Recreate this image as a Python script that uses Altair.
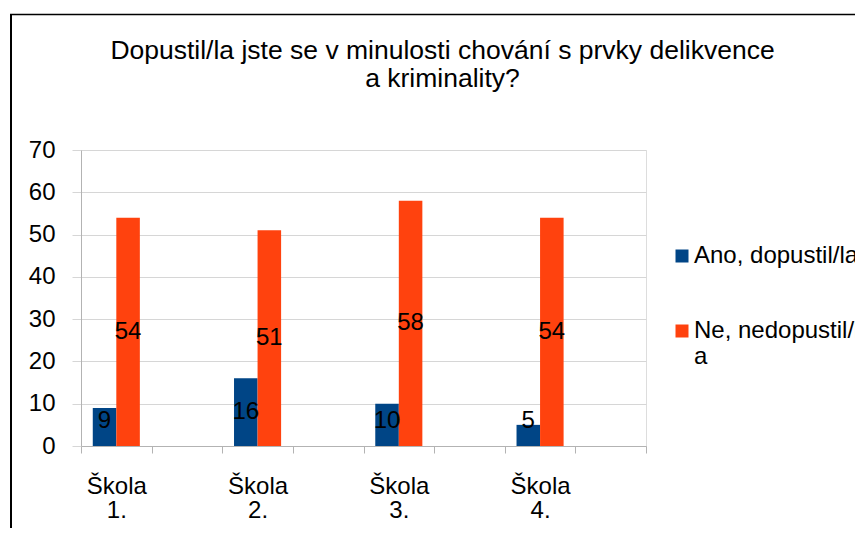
import altair as alt
import pandas as pd

# ---- data ----
schools = ["Škola 1.", "Škola 2.", "Škola 3.", "Škola 4."]
series = ["Ano, dopustil/la", "Ne, nedopustil/la"]
ano = [9, 16, 10, 5]
ne = [54, 51, 58, 54]
colors = ["#004586", "#ff420e"]
y_ticks = [0, 10, 20, 30, 40, 50, 60, 70]
title_lines = ["Dopustil/la jste se v minulosti chování s prvky delikvence", "a kriminality?"]

rows = []
for s, a, n in zip(schools, ano, ne):
    rows.append({"skola": s, "odpoved": series[0], "pocet": a})
    rows.append({"skola": s, "odpoved": series[1], "pocet": n})
df = pd.DataFrame(rows)

# each school is followed by an empty slot, as in the original category axis
x_domain = []
for i, s in enumerate(schools):
    x_domain += [s, f"_{i + 1}"]

FONT = "Liberation Sans"
GRID = "#d6d6d6"
AXIS = "#b3b3b3"

x_scale = alt.Scale(domain=x_domain, paddingInner=0, paddingOuter=0)
x_axis = alt.Axis(
    title=None,
    labelExpr="isString(datum.value) && indexof(datum.value, '_') != 0 ? split(datum.value, ' ') : ''",
    labelAngle=0,
    labelOverlap=False,
    labelFont=FONT,
    labelFontSize=24,
    labelLineHeight=24,
    labelColor="black",
    labelPadding=21,
    tickBand="extent",
    tickSize=7,
    tickColor=AXIS,
    domainColor=AXIS,
    grid=False,
)
xo = alt.XOffset("odpoved:N", scale=alt.Scale(domain=series, paddingInner=0, paddingOuter=0.5))

y_scale = alt.Scale(domain=[0, 70], nice=False)
y_axis = alt.Axis(
    title=None,
    values=y_ticks,
    labelFont=FONT,
    labelFontSize=24,
    labelColor="black",
    labelPadding=17,
    tickSize=9,
    tickColor=GRID,
    domainColor=AXIS,
    gridColor=GRID,
)

base = alt.Chart(df)

bars = base.mark_bar().encode(
    x=alt.X("skola:N", scale=x_scale, axis=x_axis),
    xOffset=xo,
    y=alt.Y("pocet:Q", scale=y_scale, axis=y_axis),
    color=alt.Color(
        "odpoved:N",
        scale=alt.Scale(domain=series, range=colors),
        legend=alt.Legend(
            title=None,
            orient="none",
            legendX=589,
            legendY=94,
            padding=0,
            symbolType="square",
            symbolSize=169,
            symbolStrokeWidth=0,
            labelFont=FONT,
            labelFontSize=24,
            labelColor="black",
            labelOffset=0,
            labelLimit=400,
            labelBaseline="middle",
            rowPadding=51,
            labelExpr="length(datum.label) > 16 ? [substring(datum.label, 0, 16), substring(datum.label, 16)] : datum.label",
        ),
    ),
)

labels = base.transform_calculate(ypos="max(datum.pocet / 2, 6)").mark_text(
    font=FONT, fontSize=24, color="black", align="center", baseline="middle"
).encode(
    x=alt.X("skola:N", scale=x_scale, axis=x_axis),
    xOffset=xo,
    y=alt.Y("ypos:Q", scale=y_scale, axis=y_axis),
    text=alt.Text("pocet:Q"),
)

frame_df = pd.DataFrame({"k": [0]})
frame_left = alt.Chart(frame_df).mark_rule(color="black", strokeWidth=2).encode(
    x=alt.value(-70), y=alt.value(-136), y2=alt.value(380)
)
frame_top = alt.Chart(frame_df).mark_rule(color="black", strokeWidth=1.5).encode(
    y=alt.value(-135.5), x=alt.value(-71), x2=alt.value(780)
)

chart = alt.layer(frame_left, frame_top, bars, labels).properties(
    width=565,
    height=296,
    padding={"left": 73, "top": 142, "right": 209, "bottom": 82},
    autosize=alt.AutoSizeParams(type="none"),
    title=alt.TitleParams(
        text=title_lines,
        font=FONT,
        fontSize=26.5,
        fontWeight="normal",
        color="black",
        anchor="middle",
        frame="group",
        baseline="alphabetic",
        dx=79,
        lineHeight=28.7,
        offset=-101,
    ),
).configure_view(stroke=AXIS, strokeWidth=1).configure(background="white")

chart.save("out.html", embed_options={"renderer": "svg", "actions": False})
